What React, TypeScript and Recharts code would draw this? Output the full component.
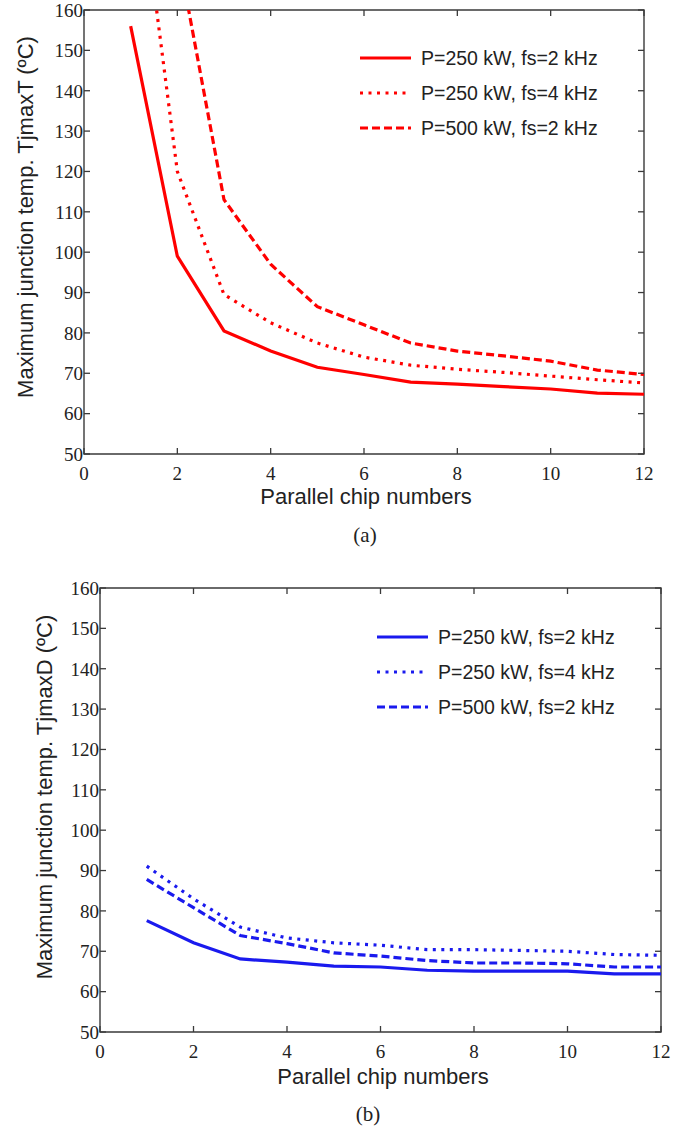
import React from 'react';
import { LineChart, Line, XAxis, YAxis, Legend, ReferenceArea } from 'recharts';

// ---------------------------------------------------------------------------
// Data
// ---------------------------------------------------------------------------

const chipNumbers = [1, 2, 3, 4, 5, 6, 7, 8, 9, 10, 11, 12];
const xTicks = [0, 2, 4, 6, 8, 10, 12];
const yTicks = [50, 60, 70, 80, 90, 100, 110, 120, 130, 140, 150, 160];

const seriesLabels = ['P=250 kW, fs=2 kHz', 'P=250 kW, fs=4 kHz', 'P=500 kW, fs=2 kHz'];

// (a) TjmaxT — values above 160 run off the top of the axes
const tjT250f2 = [156, 99, 80.5, 75.5, 71.5, 69.7, 67.8, 67.3, 66.7, 66.1, 65.1, 64.8];
const tjT250f4 = [210, 120, 89.5, 82.5, 77.5, 74, 72, 71, 70.2, 69.3, 68.4, 67.6];
const tjT500f2 = [255, 175, 113, 97, 86.5, 82, 77.5, 75.5, 74.3, 73, 70.8, 69.7];

// (b) TjmaxD
const tjD250f2 = [77.6, 72.1, 68.1, 67.3, 66.3, 66.1, 65.3, 65.1, 65.1, 65.1, 64.4, 64.4];
const tjD250f4 = [91.1, 83, 76, 73.3, 72.1, 71.5, 70.4, 70.4, 70.2, 70, 69.2, 69];
const tjD500f2 = [87.8, 80.8, 73.9, 71.9, 69.6, 68.8, 67.7, 67.1, 67.1, 66.9, 66.1, 66.1];

// ---------------------------------------------------------------------------
// Styling
// ---------------------------------------------------------------------------

const AXIS = '#3a3a3a';
const SERIF = '"Liberation Serif", "Times New Roman", serif';
const SANS = '"Liberation Sans", Arial, sans-serif';
const dashes = [undefined, '3 5.5', '8 4'];
const keys = ['s1', 's2', 's3'];

interface PanelProps {
  top: number;
  height: number;
  plotLeft: number;
  plotRight: number;
  plotTop: number;
  plotBottom: number;
  color: string;
  values: number[][];
  legendLeft: number;
  legendTop: number;
  yTitle: string;
  yTitleX: number;
  yTitleY: number;
  xTitleX: number;
  xTitleY: number;
  caption: string;
  captionX: number;
  captionY: number;
}

function Panel(p: PanelProps) {
  const data = chipNumbers.map((n, i) => ({
    n,
    s1: p.values[0][i],
    s2: p.values[1][i],
    s3: p.values[2][i],
  }));

  const tickText: React.CSSProperties = { fontFamily: SERIF, fontSize: 19, fill: '#222' };

  const xTick = (props: any) => {
    const { x, y, payload } = props;
    return (
      <g>
        <line x1={x} x2={x} y1={p.plotBottom} y2={p.plotBottom - 6} stroke={AXIS} strokeWidth={1.3} />
        <line x1={x} x2={x} y1={p.plotTop} y2={p.plotTop + 6} stroke={AXIS} strokeWidth={1.3} />
        <text x={x} y={y + 26} textAnchor="middle" style={tickText}>
          {payload.value}
        </text>
      </g>
    );
  };

  const yTick = (props: any) => {
    const { x, y, payload } = props;
    return (
      <g>
        <line x1={p.plotLeft} x2={p.plotLeft + 6} y1={y} y2={y} stroke={AXIS} strokeWidth={1.3} />
        <line x1={p.plotRight - 6} x2={p.plotRight} y1={y} y2={y} stroke={AXIS} strokeWidth={1.3} />
        <text x={x - 1} y={y} dy="0.36em" textAnchor="end" style={tickText}>
          {payload.value}
        </text>
      </g>
    );
  };

  const legendContent = () => (
    <svg width={320} height={110} style={{ display: 'block' }}>
      {seriesLabels.map((label, i) => {
        const y = 18 + i * 35;
        return (
          <g key={label}>
            <line x1={0} x2={51} y1={y} y2={y} stroke={p.color} strokeWidth={3.2} strokeDasharray={dashes[i]} />
            <text x={61} y={y} dy="0.36em" style={{ fontFamily: SANS, fontSize: 19.5, fill: '#222' }}>
              {label}
            </text>
          </g>
        );
      })}
    </svg>
  );

  const textBox: React.CSSProperties = {
    position: 'absolute',
    whiteSpace: 'nowrap',
    lineHeight: 1,
    color: '#222',
  };

  return (
    <div style={{ position: 'absolute', left: 0, top: p.top, width: 689, height: p.height }}>
      <LineChart
        width={689}
        height={p.height}
        data={data}
        margin={{
          top: p.plotTop,
          right: 689 - p.plotRight,
          bottom: p.height - p.plotBottom - 30,
          left: p.plotLeft - 60,
        }}
      >
        <XAxis
          type="number"
          dataKey="n"
          domain={[0, 12]}
          ticks={xTicks}
          allowDataOverflow
          height={30}
          axisLine={false}
          tickLine={false}
          tickSize={0}
          tickMargin={0}
          tick={xTick}
          interval={0}
        />
        <YAxis
          type="number"
          domain={[50, 160]}
          ticks={yTicks}
          allowDataOverflow
          width={60}
          axisLine={false}
          tickLine={false}
          tickSize={0}
          tickMargin={0}
          tick={yTick}
          interval={0}
        />
        <ReferenceArea x1={0} x2={12} y1={50} y2={160} fill="none" fillOpacity={0} stroke={AXIS} strokeWidth={1.4} />
        {keys.map((k, i) => (
          <Line
            key={k}
            type="linear"
            dataKey={k}
            name={seriesLabels[i]}
            stroke={p.color}
            strokeWidth={3.2}
            strokeDasharray={dashes[i]}
            dot={false}
            activeDot={false}
            isAnimationActive={false}
          />
        ))}
        <Legend
          layout="horizontal"
          verticalAlign="middle"
          align="center"
          content={legendContent}
          wrapperStyle={{ position: 'absolute', left: p.legendLeft, top: p.legendTop, width: 320, height: 110 }}
        />
      </LineChart>

      <div
        style={{
          ...textBox,
          left: p.yTitleX,
          top: p.yTitleY - p.top,
          transform: 'translate(-50%, -50%) rotate(-90deg)',
          fontFamily: SANS,
          fontSize: 22,
        }}
      >
        {p.yTitle}
      </div>
      <div
        style={{
          ...textBox,
          left: p.xTitleX,
          top: p.xTitleY - p.top,
          transform: 'translate(-50%, -50%)',
          fontFamily: SANS,
          fontSize: 22,
        }}
      >
        Parallel chip numbers
      </div>
      <div
        style={{
          ...textBox,
          left: p.captionX,
          top: p.captionY - p.top,
          transform: 'translate(-50%, -50%)',
          fontFamily: SERIF,
          fontSize: 21,
        }}
      >
        {p.caption}
      </div>
    </div>
  );
}

export default function App() {
  return (
    <div style={{ position: 'absolute', left: 0, top: 0, width: 689, height: 1131, background: '#fff' }}>
      <Panel
        top={0}
        height={560}
        plotLeft={84}
        plotRight={644}
        plotTop={10}
        plotBottom={454}
        color="#ff0000"
        values={[tjT250f2, tjT250f4, tjT500f2]}
        legendLeft={360}
        legendTop={40}
        yTitle="Maximum junction temp. TjmaxT (ºC)"
        yTitleX={26}
        yTitleY={217}
        xTitleX={366}
        xTitleY={497}
        caption="(a)"
        captionX={365}
        captionY={535}
      />
      <Panel
        top={560}
        height={571}
        plotLeft={100}
        plotRight={661}
        plotTop={28}
        plotBottom={472}
        color="#1a1aee"
        values={[tjD250f2, tjD250f4, tjD500f2]}
        legendLeft={377}
        legendTop={59}
        yTitle="Maximum junction temp. TjmaxD (ºC)"
        yTitleX={45}
        yTitleY={797}
        xTitleX={383}
        xTitleY={1077}
        caption="(b)"
        captionX={368}
        captionY={1114}
      />
    </div>
  );
}
